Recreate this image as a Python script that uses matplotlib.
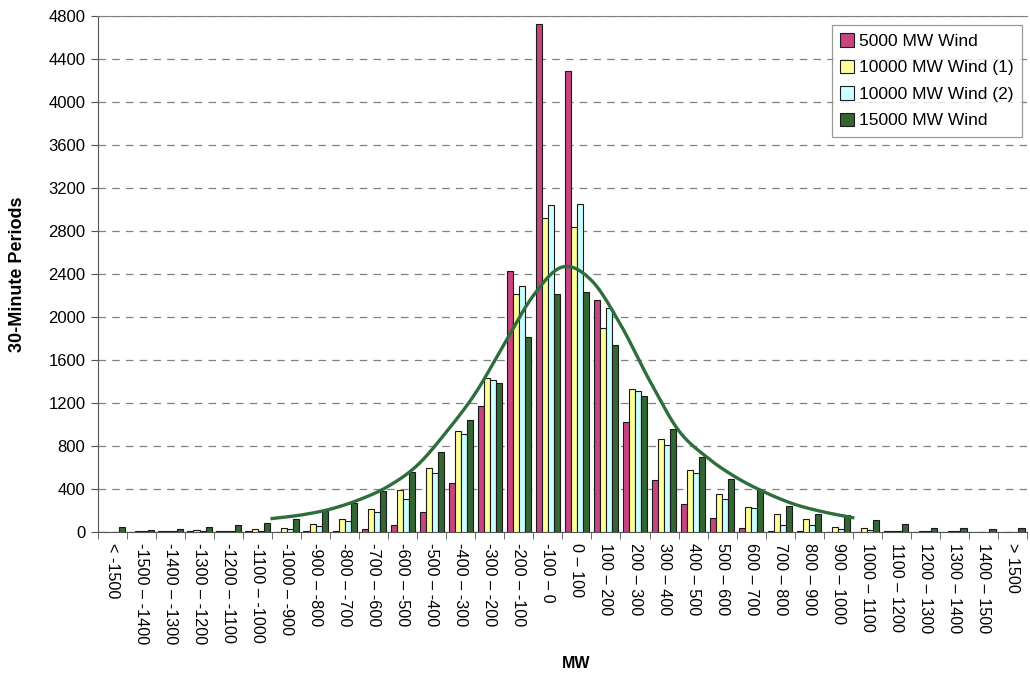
import numpy as np
import matplotlib
matplotlib.use("Agg")
import matplotlib.pyplot as plt
from matplotlib.ticker import FixedLocator

plt.rcParams['font.family'] = ['Liberation Sans', 'DejaVu Sans']

# --- bins of the MW change distribution ---
bins = ["< -1500"] + [f"{a} \u2013 {a + 100}" for a in range(-1500, 1500, 100)] + ["> 1500"]

series_names = ["5000 MW Wind", "10000 MW Wind (1)", "10000 MW Wind (2)", "15000 MW Wind"]

wind_5000 = [0, 0, 5, 5, 5, 5, 3, 5, 12, 25, 65, 190, 456, 1172, 2424, 4726,
             4286, 2157, 1027, 484, 257, 127, 40, 9, 6, 0, 0, 5, 3, 3, 0, 0]
wind_10000_1 = [0, 5, 12, 15, 12, 28, 34, 77, 124, 211, 391, 595, 937, 1435, 2212, 2925,
                2835, 1894, 1326, 862, 577, 350, 236, 164, 118, 44, 34, 12, 12, 12, 3, 3]
wind_10000_2 = [0, 5, 10, 12, 10, 10, 32, 56, 99, 183, 304, 550, 915, 1412, 2292, 3040,
                3050, 2080, 1307, 809, 546, 304, 220, 62, 65, 25, 22, 8, 5, 5, 3, 3]
wind_15000 = [43, 15, 28, 43, 68, 80, 117, 192, 267, 378, 558, 740, 1037, 1390, 1814, 2212,
              2231, 1743, 1262, 955, 698, 490, 388, 242, 164, 158, 108, 75, 40, 40, 25, 40]

# fitted curve, evaluated at the bin edges -1000 .. 1000
curve_mw = list(range(-1000, 1001, 100))
curve_vals = [125, 158, 212, 300, 425, 620, 930, 1290, 1750, 2200, 2465,
              2340, 1930, 1410, 945, 690, 505, 366, 257, 186, 133]

colors = ['#C6447F', '#FFFF99', '#CCFFFF', '#336633']
curve_color = '#2E6E3C'


def smooth(x, y, steps=20):
    """Catmull-Rom style smoothing, like a spreadsheet 'smoothed line'."""
    x = np.asarray(x, float)
    y = np.asarray(y, float)
    px = np.concatenate([[2 * x[0] - x[1]], x, [2 * x[-1] - x[-2]]])
    py = np.concatenate([[2 * y[0] - y[1]], y, [2 * y[-1] - y[-2]]])
    t = np.linspace(0, 1, steps, endpoint=False)
    xs, ys = [], []
    for i in range(1, len(px) - 2):
        for arr, out in ((px, xs), (py, ys)):
            p0, p1, p2, p3 = arr[i - 1], arr[i], arr[i + 1], arr[i + 2]
            out.extend(0.5 * ((2 * p1) + (-p0 + p2) * t
                              + (2 * p0 - 5 * p1 + 4 * p2 - p3) * t ** 2
                              + (-p0 + 3 * p1 - 3 * p2 + p3) * t ** 3))
    xs.append(x[-1])
    ys.append(y[-1])
    return np.array(xs), np.array(ys)


fig = plt.figure(figsize=(10.3, 6.75), dpi=100)
ax = fig.add_axes([0.0951, 0.2119, 0.9019, 0.7645])

x = np.arange(len(bins))
w = 0.21
all_series = [wind_5000, wind_10000_1, wind_10000_2, wind_15000]
for i, (vals, name, col) in enumerate(zip(all_series, series_names, colors)):
    ax.bar(x + (i - 1.5) * w, vals, width=w, color=col, edgecolor='#1a1a1a',
           linewidth=0.8, label=name, zorder=3)

# curve x: bin edge at MW value m sits between categories
cx = [(m + 1500) / 100 + 0.5 for m in curve_mw]
sx, sy = smooth(cx, curve_vals)
ax.plot(sx, sy, color=curve_color, linewidth=2.4, zorder=4)

ax.set_xlim(-0.5, len(bins) - 0.5)
ax.set_ylim(0, 4800)
ax.set_yticks(np.arange(0, 4801, 400))
ax.yaxis.grid(True, linestyle=(0, (6, 5)), color='#808080', linewidth=0.9)
ax.set_axisbelow(True)

ax.set_xticks(x)
ax.set_xticklabels(bins, rotation=270, fontsize=11.7, va='top', ha='center')
ax.tick_params(axis='x', which='major', length=0, pad=8)
ax.xaxis.set_minor_locator(FixedLocator(np.arange(-0.5, len(bins), 1.0)))
ax.tick_params(axis='x', which='minor', length=5, direction='out', color='#555555')
ax.tick_params(axis='y', labelsize=12, length=5, direction='out', color='#555555', pad=4)

ax.spines['right'].set_visible(False)
ax.spines['top'].set_color('#808080')
ax.spines['left'].set_color('#555555')
ax.spines['bottom'].set_color('#555555')

ax.set_ylabel("30-Minute Periods", fontsize=13, fontweight='bold')
ax.yaxis.set_label_coords(-0.077, 0.5)
ax.set_xlabel("MW", fontsize=11.5, fontweight='bold')
ax.xaxis.set_label_coords(0.515, -0.24)

leg = ax.legend(loc='upper right', bbox_to_anchor=(0.9946, 0.983), fontsize=12.5,
                frameon=True, fancybox=False, handlelength=0.8, handleheight=0.8,
                handletextpad=0.25, borderpad=0.5, labelspacing=0.62, borderaxespad=0)
leg.get_frame().set_edgecolor('#808080')
leg.get_frame().set_linewidth(0.9)

fig.savefig("out.png", dpi=100, facecolor='white')
